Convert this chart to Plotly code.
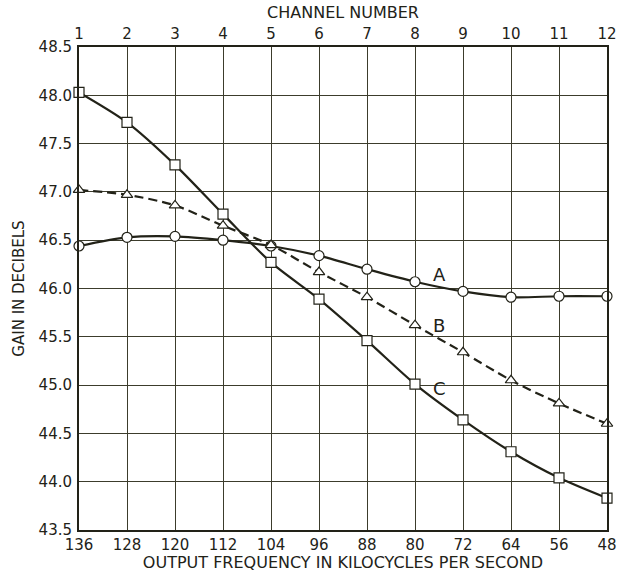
import plotly.graph_objects as go

channels = list(range(1, 13))
freq_labels = ["136", "128", "120", "112", "104", "96", "88", "80", "72", "64", "56", "48"]
gain_a = [46.44, 46.53, 46.54, 46.50, 46.44, 46.34, 46.20, 46.07, 45.97, 45.91, 45.92, 45.92]
gain_b = [47.02, 46.97, 46.86, 46.65, 46.45, 46.17, 45.91, 45.62, 45.34, 45.05, 44.81, 44.60]
gain_c = [48.03, 47.72, 47.28, 46.77, 46.27, 45.89, 45.46, 45.01, 44.64, 44.31, 44.04, 43.83]
y_ticks = [43.5, 44.0, 44.5, 45.0, 45.5, 46.0, 46.5, 47.0, 47.5, 48.0, 48.5]

ink = "#222218"
grid = "#3c3c2c"
font = "DejaVu Sans"

fig = go.Figure()

def add(y, symbol, dash, size):
    fig.add_trace(go.Scatter(
        x=channels, y=y, mode="lines+markers",
        line=dict(color=ink, width=2.2, shape="spline", smoothing=0.8, dash=dash),
        marker=dict(symbol=symbol, size=size, color="white", line=dict(color=ink, width=1.2)),
        cliponaxis=False, showlegend=False))

add(gain_a, "circle", "solid", 10)
add(gain_b, "triangle-up", "9px,5px", 10)
add(gain_c, "square", "solid", 10)

# invisible trace for top axis
fig.add_trace(go.Scatter(x=channels, y=gain_a, xaxis="x2", mode="none",
                         showlegend=False, hoverinfo="skip"))

for txt, x, y in [("A", 8.5, 46.14), ("B", 8.5, 45.62), ("C", 8.5, 44.97)]:
    fig.add_annotation(x=x, y=y, text=txt, showarrow=False,
                       font=dict(family=font, size=18, color=ink))

fig.update_layout(
    width=622, height=572,
    margin=dict(l=79, r=15, t=47, b=42),
    paper_bgcolor="white", plot_bgcolor="white",
    font=dict(family=font, size=15, color=ink),
    xaxis=dict(range=[1, 12], tickmode="array", tickvals=channels, ticktext=freq_labels,
               showgrid=True, gridcolor=grid, gridwidth=1, zeroline=False, automargin=False,
               showline=True, linecolor=ink, linewidth=2, mirror=False, ticks="",
               ticklabelstandoff=0,
               title=dict(text="OUTPUT FREQUENCY IN KILOCYCLES PER SECOND", standoff=3,
                          font=dict(size=16, color=ink))),
    xaxis2=dict(range=[1, 12], overlaying="x", side="top", tickmode="array",
                tickvals=channels, ticktext=[str(c) for c in channels], automargin=False,
                showgrid=False, zeroline=False, showline=True, linecolor=ink, linewidth=2,
                ticks="", title=dict(text="CHANNEL NUMBER", standoff=2,
                                     font=dict(size=16, color=ink))),
    yaxis=dict(range=[43.5, 48.5], tickmode="array", tickvals=y_ticks, automargin=False,
               tickformat=".1f", showgrid=True, gridcolor=grid, gridwidth=1,
               zeroline=False, showline=True, linecolor=ink, linewidth=2, mirror=True,
               ticks="", ticklabelstandoff=2,
               title=dict(text="GAIN IN DECIBELS", standoff=10, font=dict(size=15, color=ink))),
)

fig.write_html("out.html", config={"displayModeBar": False},
               post_script="document.body.style.margin='0';")
